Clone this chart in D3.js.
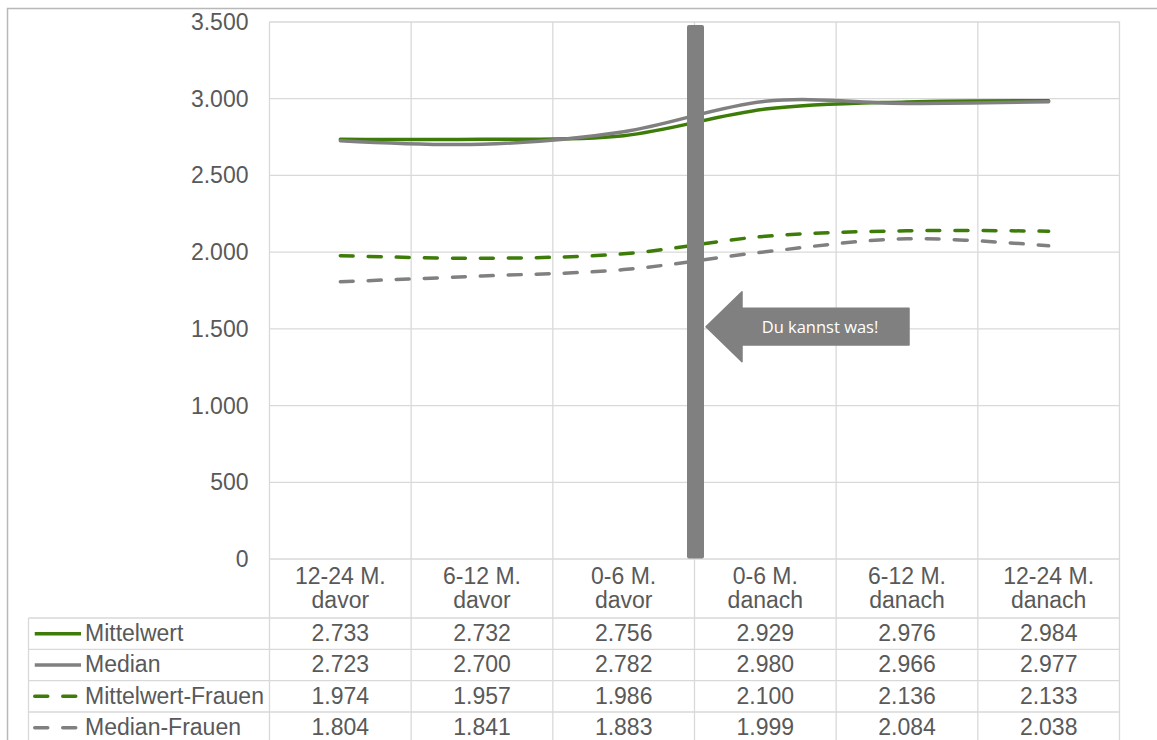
<!DOCTYPE html>
<html>
<head>
<meta charset="utf-8">
<script src="https://cdn.jsdelivr.net/npm/d3@7"></script>
<style>
  html, body { margin: 0; padding: 0; background: #ffffff; }
  svg { display: block; }
</style>
</head>
<body>
<svg id="chart" width="1157" height="740"></svg>
<script>
// Zeiträume relativ zum Ereignis (zweizeilige Beschriftung)
const categories = [
  ["12-24 M.", "davor"],
  ["6-12 M.", "davor"],
  ["0-6 M.", "davor"],
  ["0-6 M.", "danach"],
  ["6-12 M.", "danach"],
  ["12-24 M.", "danach"]
];

// Reihen (Beträge)
const seriesNames = ["Mittelwert", "Median", "Mittelwert-Frauen", "Median-Frauen"];
const mittelwert       = [2733, 2732, 2756, 2929, 2976, 2984];
const median           = [2723, 2700, 2782, 2980, 2966, 2977];
const mittelwertFrauen = [1974, 1957, 1986, 2100, 2136, 2133];
const medianFrauen     = [1804, 1841, 1883, 1999, 2084, 2038];
const seriesValues = [mittelwert, median, mittelwertFrauen, medianFrauen];

// Achsenwerte
const yTicks = [0, 500, 1000, 1500, 2000, 2500, 3000, 3500];
const calloutText = "Du kannst was!";

// Darstellung der Reihen
const GREEN = "#3e7c0a", GREY = "#808080";
const seriesStyle = [
  { color: GREEN, dashed: false },
  { color: GREY,  dashed: false },
  { color: GREEN, dashed: true },
  { color: GREY,  dashed: true }
];

const de = d3.formatLocale({ decimal: ",", thousands: ".", grouping: [3], currency: ["", " €"] });
const fmt = de.format(",.0f");

const svg = d3.select("#chart");
const TEXT = "#595959", GRID = "#d9d9d9";
const FONT = "'Liberation Sans', Arial, sans-serif";
const FS = 23;

const plot = { left: 269.5, right: 1119.5, top: 21.5, bottom: 558.5 };
const tableLeft = 28.5;
const headerBottom = 618;
const rowH = 31.33;

const x = d3.scaleBand().domain(d3.range(categories.length)).range([plot.left, plot.right]).padding(0);
const xc = i => x(i) + x.bandwidth() / 2;
const y = d3.scaleLinear().domain([0, 3500]).range([plot.bottom, plot.top]);

// Äußerer Rahmen
svg.append("rect")
  .attr("x", 7.5).attr("y", 8.5).attr("width", 1300).attr("height", 900)
  .attr("fill", "none").attr("stroke", "#b8b8b8").attr("stroke-width", 1.5);

// Horizontale Gitternetzlinien + Beschriftung über d3.axisLeft
const yAxis = svg.append("g")
  .attr("transform", `translate(${plot.left},0)`)
  .call(d3.axisLeft(y).tickValues(yTicks).tickFormat(fmt)
    .tickSize(-(plot.right - plot.left)).tickPadding(21));
yAxis.select(".domain").remove();
yAxis.selectAll(".tick line").attr("stroke", GRID).attr("stroke-width", 1.3);
yAxis.selectAll(".tick text")
  .attr("fill", TEXT).style("font-family", FONT).style("font-size", FS + "px")
  .attr("dy", "0.35em");

// Vertikale Linien: Kategorienraster durch Diagramm und Tabelle
const tableBottom = headerBottom + rowH * seriesNames.length;
const bounds = d3.range(categories.length + 1).map(i => i < categories.length ? x(i) : plot.right);
svg.append("g").selectAll("line").data(bounds).join("line")
  .attr("x1", d => d).attr("x2", d => d)
  .attr("y1", plot.top).attr("y2", tableBottom + 20)
  .attr("stroke", GRID).attr("stroke-width", 1.3);

// Tabellenzeilen
const rowLines = d3.range(seriesNames.length + 1).map(i => headerBottom + i * rowH);
svg.append("g").selectAll("line").data(rowLines).join("line")
  .attr("x1", tableLeft).attr("x2", plot.right)
  .attr("y1", d => d).attr("y2", d => d)
  .attr("stroke", GRID).attr("stroke-width", 1.3);
svg.append("line")
  .attr("x1", tableLeft).attr("x2", tableLeft)
  .attr("y1", headerBottom).attr("y2", tableBottom + 20)
  .attr("stroke", GRID).attr("stroke-width", 1.3);

// Kategorienbeschriftung
const catG = svg.append("g");
categories.forEach((c, i) => {
  const t = catG.append("text")
    .attr("x", xc(i)).attr("text-anchor", "middle")
    .attr("fill", TEXT).style("font-family", FONT).style("font-size", FS + "px");
  t.append("tspan").attr("x", xc(i)).attr("y", 584).text(c[0]);
  t.append("tspan").attr("x", xc(i)).attr("y", 608).text(c[1]);
});

// Tabelleninhalte mit Legendenschlüssel
seriesNames.forEach((name, r) => {
  const cy = headerBottom + r * rowH + rowH / 2;
  const st = seriesStyle[r];
  svg.append("line")
    .attr("x1", 34.75).attr("x2", 81).attr("y1", cy).attr("y2", cy)
    .attr("stroke", st.color).attr("stroke-width", 3.5)
    .attr("stroke-linecap", st.dashed ? "round" : "butt")
    .attr("stroke-dasharray", st.dashed ? "13,15" : null);
  svg.append("text")
    .attr("x", 85).attr("y", cy + 7.5)
    .attr("fill", TEXT).style("font-family", FONT).style("font-size", FS + "px")
    .text(name);
  seriesValues[r].forEach((v, i) => {
    svg.append("text")
      .attr("x", xc(i)).attr("y", cy + 7.5).attr("text-anchor", "middle")
      .attr("fill", TEXT).style("font-family", FONT).style("font-size", FS + "px")
      .text(fmt(v));
  });
});

// Geglättete Linien
const line = d3.line()
  .x((d, i) => xc(i))
  .y(d => y(d))
  .curve(d3.curveCardinal.tension(0));
seriesValues.forEach((vals, r) => {
  const st = seriesStyle[r];
  svg.append("path")
    .attr("d", line(vals))
    .attr("fill", "none")
    .attr("stroke", st.color)
    .attr("stroke-width", 3.5)
    .attr("stroke-linecap", "round")
    .attr("stroke-linejoin", "round")
    .attr("stroke-dasharray", st.dashed ? "13,15" : null);
});

// Markierung des Ereignisses zwischen "davor" und "danach"
const markX = x(3) + 1;
svg.append("rect")
  .attr("x", markX - 8.5).attr("y", 25)
  .attr("width", 17).attr("height", plot.bottom - 25)
  .attr("rx", 2).attr("fill", GREY);

// Pfeil mit Hinweistext
const tipX = markX + 10.5, tipY = 326.7;
const headX = tipX + 36, bodyR = 909;
const arrow = d3.path();
arrow.moveTo(tipX, tipY);
arrow.lineTo(headX, tipY - 35);
arrow.lineTo(headX, tipY - 18.4);
arrow.lineTo(bodyR, tipY - 18.4);
arrow.lineTo(bodyR, tipY + 18.4);
arrow.lineTo(headX, tipY + 18.4);
arrow.lineTo(headX, tipY + 35);
arrow.closePath();
svg.append("path").attr("d", arrow.toString())
  .attr("fill", GREY).attr("stroke", GREY).attr("stroke-width", 1.5).attr("stroke-linejoin", "round");
svg.append("text")
  .attr("x", 820).attr("y", tipY + 6)
  .attr("text-anchor", "middle").attr("fill", "#ffffff")
  .style("font-family", "'Open Sans', 'Noto Sans', sans-serif").style("font-size", "16.5px")
  .text(calloutText);
</script>
</body>
</html>
